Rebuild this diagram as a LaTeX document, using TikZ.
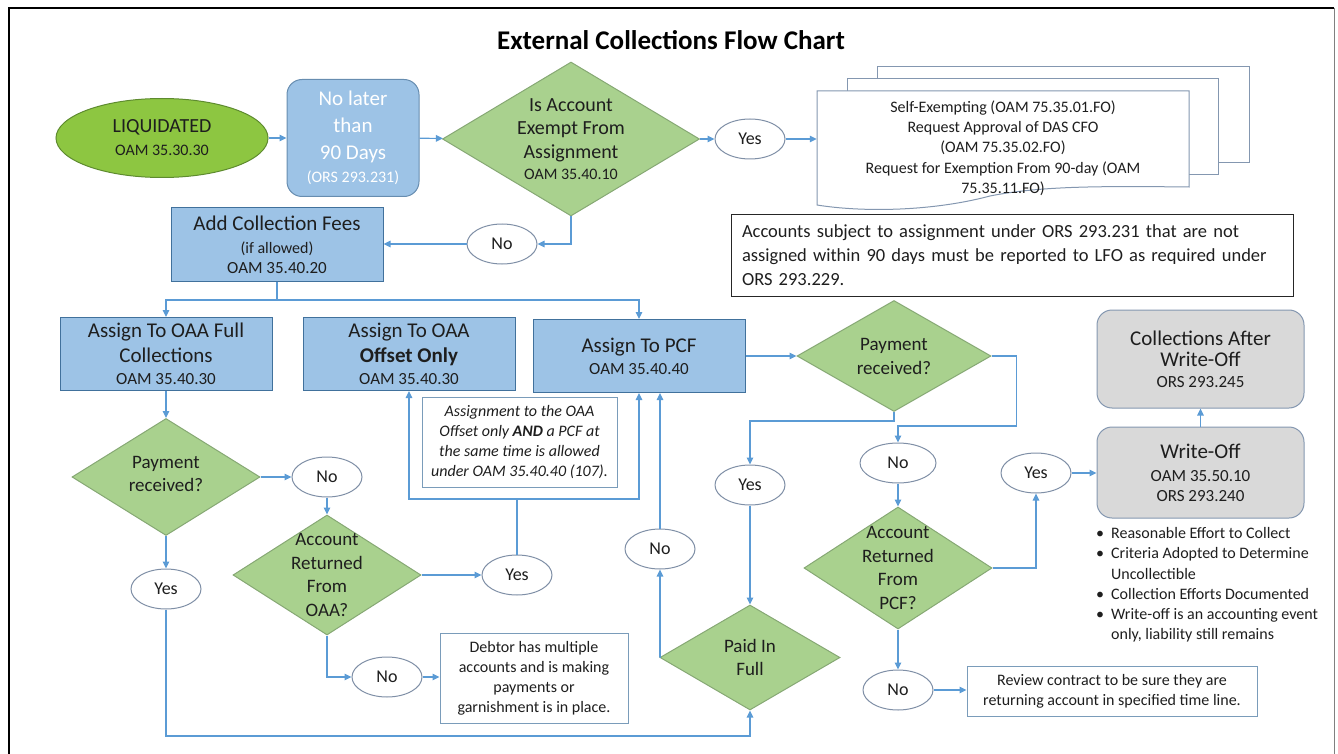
\documentclass[tikz,border=0pt]{standalone}
\usepackage{fontspec}
\setmainfont{Carlito}
\usetikzlibrary{arrows.meta,shapes.geometric,calc}

\definecolor{linkblue}{HTML}{5B9BD5}
\definecolor{boxblue}{HTML}{9DC3E6}
\definecolor{boxedge}{HTML}{41719C}
\definecolor{diafill}{HTML}{A9D18E}
\definecolor{diaedge}{HTML}{86A874}
\definecolor{ovaledge}{HTML}{7F8FA6}
\definecolor{liqfill}{HTML}{8DC641}
\definecolor{liqedge}{HTML}{5E8B2F}
\definecolor{greyfill}{HTML}{D9D9D9}
\definecolor{greyedge}{HTML}{8497B0}
\definecolor{ink}{HTML}{1E1E1E}
\definecolor{docedge}{HTML}{8497B0}

\newcommand\fsz[2]{\fontsize{#1}{#2}\selectfont}

\begin{document}
\begin{tikzpicture}[x=1pt,y=-1pt,
  every node/.style={text=ink},
  link/.style={draw=linkblue, line width=1.2pt, -{Triangle[length=7pt,width=6.5pt]}},
  wire/.style={draw=linkblue, line width=1.2pt},
  bluebox/.style={draw=boxedge, fill=boxblue, line width=1pt, minimum width=212pt,
    minimum height=73pt, align=center, inner sep=0pt},
  decision/.style={diamond, draw=diaedge, fill=diafill, line width=1pt, inner sep=0pt},
  qtext/.style={align=center, inner sep=0pt, font=\fsz{19}{23.5}},
  answer/.style={ellipse, draw=ovaledge, fill=white, line width=1pt, minimum width=70pt,
    minimum height=40pt, inner sep=0pt, font=\fsz{18}{22}},
  greybox/.style={rounded corners=15pt, draw=greyedge, fill=greyfill, line width=1pt,
    minimum width=207pt, align=center, inner sep=0pt},
  textbox/.style={draw=boxedge!70, fill=white, line width=1pt, align=center, inner sep=0pt},
  docline/.style={draw=docedge, line width=1pt},
]
\useasboundingbox (0,0) rectangle (1338,754);

% frame
\draw[black, line width=2.5pt] (9,754) -- (9,8) -- (1334,8);
\draw[gray, line width=1pt] (1334,8) -- (1334,754);

% title
\node[font=\fsz{27}{30}\bfseries, text=black] (title) at (671,40) {External Collections Flow Chart};

% start
\node[ellipse, draw=liqedge, fill=liqfill, line width=1pt, minimum width=212pt, minimum height=79pt,
  inner sep=0pt, align=center, font=\fsz{20}{23}] (liq) at (162,138)
  {LIQUIDATED\\\fsz{16}{20}OAM 35.30.30};

\node[rounded corners=15pt, draw=boxedge!80, fill=boxblue, line width=1pt, minimum width=132pt,
  minimum height=117pt, inner sep=0pt, align=center, text=white, font=\fsz{21}{27}] (late) at (353,138)
  {No later\\than\\90 Days\\[-4pt]\fsz{16}{20}(ORS 293.231)};

% exemption question
\node[decision, minimum width=257pt, minimum height=154pt] (d1) at (571,139) {};
\node[qtext, font=\fsz{20}{23.5}] (d1t) at (d1) {Is Account\\Exempt From\\Assignment\\[-2pt]\fsz{16}{19}OAM 35.40.10};

\node[answer] (yes1) at (750,139) {Yes};

% stacked documents
\draw[docline] (877,79) -- (877,67) -- (1249,67) -- (1249,163) -- (1218,163);
\draw[docline, fill=white] (847,91) -- (847,79) -- (1218,79) -- (1218,175) -- (1189,175);
\draw[docline, fill=white] (817,91) -- (1189,91) -- (1189,187)
  .. controls (1100,186) and (1040,186) .. (990,196)
  .. controls (930,212) and (860,212) .. (817,205) -- cycle;
\node[minimum width=372pt, minimum height=114pt, inner sep=0pt, align=center, font=\fsz{16}{20.3}]
  (doc) at (1003,148)
  {Self-Exempting (OAM 75.35.01.FO)\\Request Approval of DAS CFO\\(OAM 75.35.02.FO)\\
   Request for Exemption From 90-day (OAM\\75.35.11.FO)};

\node[draw=black!85, line width=1pt, minimum width=562pt, minimum height=81pt, text width=540pt,
  align=left, inner sep=0pt, font=\fsz{18.5}{24}] (note) at (1012,255.5)
  {Accounts subject to assignment under ORS 293.231 that are not\\
   assigned within 90 days must be reported to LFO as required under\\
   ORS 293.229.};

\node[answer] (no1) at (502,244) {No};

\node[bluebox, font=\fsz{21}{23}] (fees) at (277,244.5)
  {Add Collection Fees\\\fsz{16}{20}(if allowed)\\[-3pt]\fsz{17}{20}OAM 35.40.20};

% assignment options
\node[bluebox, font=\fsz{21}{25}] (full) at (166,354)
  {Assign To OAA Full\\Collections\\[-3pt]\fsz{17}{20}OAM 35.40.30};
\node[bluebox, font=\fsz{21}{25}] (offset) at (409,354)
  {Assign To OAA\\\bfseries Offset Only\\[-3pt]\fsz{17}{20}OAM 35.40.30};
\node[bluebox, font=\fsz{21}{22}] (pcf) at (639,356)
  {Assign To PCF\\\fsz{17}{20}OAM 35.40.40};

\node[textbox, minimum width=195pt, minimum height=90pt, font=\fsz{16}{20}\itshape] (both) at (519.5,442)
  {Assignment to the OAA\\Offset only \textbf{AND} a PCF at\\the same time is allowed\\under OAM 35.40.40 (107).};

% OAA full collections branch
\node[decision, minimum width=188pt, minimum height=117pt] (pay1) at (166,477) {};
\node[qtext] (pay1t) at (166,474) {Payment\\received?};
\node[answer] (no2) at (327,477) {No};
\node[decision, minimum width=188pt, minimum height=120pt] (ret1) at (327,575) {};
\node[qtext] (ret1t) at (ret1) {Account\\Returned\\From\\OAA?};
\node[answer] (yes3) at (517,575) {Yes};
\node[answer] (yes2) at (166,589) {Yes};
\node[answer] (no4) at (387,677) {No};
\node[textbox, minimum width=188pt, minimum height=90pt, font=\fsz{16}{20}] (debtor) at (534,678)
  {Debtor has multiple\\accounts and is making\\payments or\\garnishment is in place.};

% PCF branch
\node[decision, minimum width=180pt, minimum height=105pt] (paid) at (750,657.5) {};
\node[qtext] (paidt) at (paid) {Paid In\\Full};
\node[answer] (no5) at (660,549) {No};
\node[answer] (yes4) at (750,485) {Yes};
\node[decision, minimum width=194pt, minimum height=111pt] (pay2) at (894,356) {};
\node[qtext, font=\fsz{19}{24}] (pay2t) at (pay2) {Payment\\received?};
\node[answer, minimum width=76pt] (no6) at (898,463) {No};
\node[decision, minimum width=188pt, minimum height=122pt] (ret2) at (898,568) {};
\node[qtext] (ret2t) at (ret2) {Account\\Returned\\From\\PCF?};
\node[answer] (no7) at (898,690) {No};
\node[textbox, minimum width=290pt, minimum height=50pt, font=\fsz{16}{20}] (review) at (1112,691)
  {Review contract to be sure they are\\returning account in specified time line.};
\node[answer] (yes5) at (1036,473) {Yes};

% write-off
\node[greybox, minimum height=91pt, font=\fsz{21}{20}] (wo) at (1200.5,472.5)
  {Write-Off\\[3pt]\fsz{17}{20}OAM 35.50.10\\\fsz{17}{20}ORS 293.240};
\node[greybox, minimum height=98pt, font=\fsz{21}{21}] (caw) at (1200.5,359)
  {Collections After\\Write-Off\\\fsz{17}{20}ORS 293.245};
\node[anchor=north west, inner sep=0pt, font=\fsz{16}{20.3}] (notes) at (1096,524)
  {\begin{tabular}{@{}l@{\hspace{7pt}}l@{}}
   \textbullet & Reasonable Effort to Collect\\
   \textbullet & Criteria Adopted to Determine\\
               & Uncollectible\\
   \textbullet & Collection Efforts Documented\\
   \textbullet & Write-off is an accounting event\\
               & only, liability still remains
   \end{tabular}};

% connectors
\draw[link] (liq) -- (late);
\draw[link] (late) -- (d1);
\draw[link] (d1) -- (yes1);
\draw[link] (yes1.east) -- (yes1.east -| doc.west);
\draw[link] (d1.south) |- (no1.east);
\draw[link] (no1.west) -- (no1.west -| fees.east);

\coordinate (split) at (fees.south |- 0,300);
\draw[wire] (fees.south) -- (split);
\draw[link] (split) -| (full.north);
\draw[link] (split) -| (pcf.north);

\draw[link] (full.south) -- (pay1.north);
\draw[link] (pay1.east) -- (no2.west);
\draw[link] (no2.south) -- (ret1.north);
\draw[link] (ret1.east) -- (yes3.west);
\coordinate (join) at (yes3.north |- 0,499);
\draw[wire] (yes3.north) -- (join);
\draw[link] (join) -| (offset.south);
\draw[link] (join) -| (pcf.south);
\draw[link] (ret1.south) |- (no4.west);
\draw[link] (no4.east) -- (no4.east -| debtor.west);
\draw[link] (pay1.south) -- (yes2.north);
\coordinate (low) at (yes2.south |- 0,736);
\draw[link] (yes2.south) -- (low) -| (paid.south);

\draw[link] (paid.west) -| (no5.south);
\draw[link] (no5.north) -- (no5.north |- pcf.south);
\draw[link] (pcf.east) -- (pcf.east -| pay2.west);
\draw[link] (pay2.south) -- ++(0,9) -| (yes4.north);
\draw[link] (yes4.south) -- (paid.north);
\draw[link] (pay2.east) -- ++(25,0) -- ++(0,70) -| (no6.north);
\draw[link] (no6.south) -- (ret2.north);
\draw[link] (ret2.east) -| (yes5.south);
\draw[link] (yes5.east) -- (yes5.east -| wo.west);
\draw[link] (wo.north) -- (caw.south);
\draw[link] (ret2.south) -- (no7.north);
\draw[link] (no7.east) -- (no7.east -| review.west);
\end{tikzpicture}
\end{document}
